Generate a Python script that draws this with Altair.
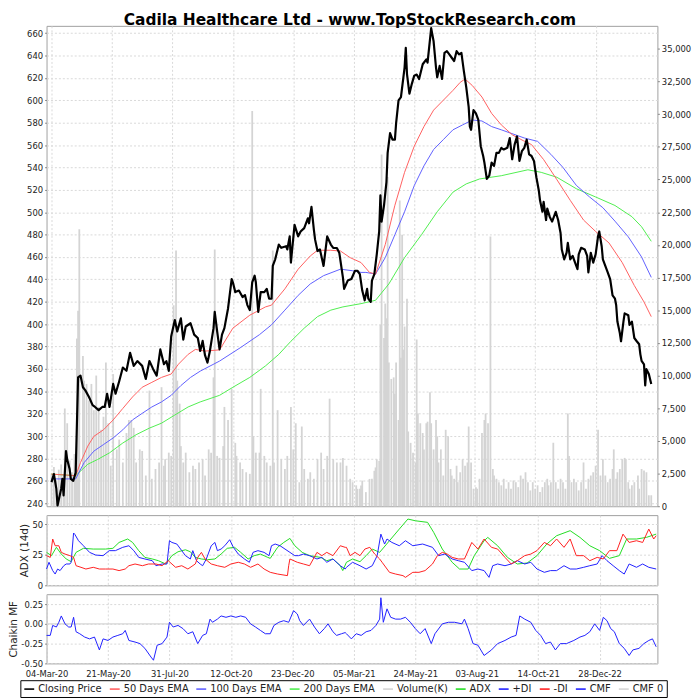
import altair as alt
import pandas as pd

title_text = "Cadila Healthcare Ltd - www.TopStockResearch.com"
date_labels = ["04-Mar-20", "21-May-20", "31-Jul-20", "12-Oct-20", "23-Dec-20",
               "05-Mar-21", "24-May-21", "03-Aug-21", "14-Oct-21", "28-Dec-22"]
tick_bars = [0, 50, 100, 150, 200, 250, 300, 350, 400, 450]

series_names = ["Closing Price", "50 Days EMA", "100 Days EMA", "200 Days EMA", "Volume(K)",
                "ADX", "+DI", "-DI", "CMF", "CMF 0"]
series_colors = ["#000000", "#ff6060", "#6060ff", "#50ee50", "#d4d4d4",
                 "#22dd22", "#2020ff", "#ff2020", "#2020ff", "#d6d6d6"]

price_bar = [0, 2, 4, 5, 8, 9, 10, 12, 13, 15, 16, 18, 20, 22, 24, 26, 28, 31, 34, 36, 39, 42, 44, 46, 48,
             51, 53, 56, 59, 62, 65, 68, 71, 75, 78, 81, 84, 87, 90, 93, 95, 97, 99, 102, 104, 107, 109,
             111, 115, 118, 121, 123, 125, 127, 129, 131, 134, 135, 137, 139, 141, 143, 146, 149, 150,
             152, 155, 158, 160, 162, 164, 166, 168, 169, 171, 173, 176, 178, 180, 182, 183, 185, 188,
             190, 194, 195, 197, 198, 201, 204, 206, 209, 212, 213, 215, 217, 218, 220, 222, 225, 228,
             231, 233, 236, 238, 241, 242, 245, 248, 251, 253, 255, 257, 259, 261, 262, 264, 265, 267,
             269, 271, 272, 273, 275, 277, 278, 280, 282, 284, 285, 287, 289, 292, 293, 294, 296, 298,
             300, 302, 304, 307, 310, 311, 314, 316, 318, 319, 321, 323, 325, 327, 329, 331, 333, 335,
             337, 339, 341, 343, 345, 346, 347, 349, 351, 353, 355, 357, 358, 360, 362, 364, 366, 368,
             370, 372, 374, 377, 379, 381, 383, 385, 387, 389, 391, 393, 395, 397, 399, 401, 403, 404,
             406, 407, 409, 410, 412, 414, 417, 419, 421, 422, 424, 426, 427, 429, 431, 433, 435, 436,
             438, 441, 443, 444, 446, 448, 450, 452, 453, 455, 456, 458, 460, 462, 464, 466, 467, 468,
             470, 471, 473, 474, 477, 478, 480, 482, 484, 486, 487, 488, 490, 491, 492, 494, 496]
price_val = [258.8, 266, 253, 238, 253, 261.7, 247, 286.5, 279, 270.5, 261.7, 260, 267.5, 352.4, 354,
             343.6, 340.8, 334.9, 327.6, 326, 323.2, 326, 326, 337.8, 326, 346.6, 337.8, 349, 361.2,
             358.3, 374.4, 362.7, 367, 362.7, 351, 367, 360, 354, 377.4, 364.2, 367, 358.3, 389.1,
             403.7, 393.5, 405.2, 386.2, 397.9, 400.8, 390.6, 387.6, 376, 385, 372, 365.6, 376, 396.4,
             411, 393.5, 377.4, 390.6, 396.4, 414, 440.3, 437.4, 428.6, 430, 424.2, 426, 417, 412.5,
             437.4, 443.3, 437.4, 411, 428.6, 428.6, 431.5, 422.7, 422.7, 452, 457.9, 471.1, 468.2,
             469.6, 466.7, 478.4, 455, 488.7, 478.4, 482.8, 485.8, 494.5, 490.1, 504.8, 484.3, 475.5,
             465.3, 466.7, 452, 478.4, 471.1, 468.2, 468, 463.8, 441.8, 431.5, 438.9, 440.3, 447.7,
             447.7, 444.7, 430, 421.3, 431.5, 422.7, 419.8, 438.9, 444.7, 462.3, 482.8, 515, 491.6,
             506.2, 526.8, 553.1, 570.7, 564.8, 564.8, 579.5, 600, 602.9, 629.2, 646.8, 623.4, 605.9,
             614.7, 622, 623, 619, 632.2, 636.6, 633.6, 664.4, 652.7, 629.2, 620.5, 630.7, 619, 642.4,
             643.9, 641, 638, 635.1, 643.9, 641, 642.4, 626.3, 611.7, 594.1, 576.5, 573.6, 591.2,
             588.3, 582.4, 559, 550.2, 544.4, 529.7, 532.6, 544.4, 541.4, 553.1, 553, 557.5, 556,
             557.5, 566.3, 547.3, 560.4, 567.7, 545.8, 554.5, 557.5, 564.8, 551.7, 550.2, 545.8,
             531.2, 519.4, 510.6, 500.4, 509.2, 493, 503.3, 496, 491.6, 500.4, 493, 481.4, 466.7,
             457.9, 463.8, 472.6, 457.9, 460.9, 455, 449.1, 462.3, 468.2, 466.7, 460.9, 446.2, 463.8,
             455, 462.3, 478.4, 482.8, 469.6, 457.9, 452, 446.2, 440.3, 425.7, 422.7, 416.9, 402.3,
             392, 384.7, 402.3, 409.6, 408, 399.4, 402.3, 387.6, 384.7, 382, 373, 367.2, 364, 345.2,
             359.8, 355.4, 346.6]

ema50_bar = [0, 20, 24, 30, 35, 43, 51, 59, 67, 75, 83, 91, 99, 105, 113, 119, 127, 139, 150, 164, 177,
             182, 193, 204, 214, 220, 231, 239, 247, 256, 263, 268, 276, 284, 292, 300, 308, 316, 324,
             332, 338, 342, 348, 356, 364, 372, 381, 390, 397, 407, 418, 429, 440, 450, 461, 472, 482,
             490, 496]
ema50_val = [266, 264.6, 276.3, 291, 299.7, 305.6, 314.4, 324.7, 334.9, 343.6, 348, 352.4, 355.4, 364.2,
             373, 377.4, 375.9, 377, 396.4, 408, 415.4, 417, 431.5, 449.1, 460.9, 466, 466, 465.3, 459.4,
             455, 446.2, 444.7, 471, 506.2, 535.6, 559, 576.5, 591.2, 600, 608.8, 616, 619, 613.2,
             602.9, 588.3, 578, 569.2, 564, 560.4, 547, 529, 510.6, 493, 482.8, 472.6, 455, 434.5,
             419.8, 406.7]

ema100_bar = [0, 20, 27, 35, 43, 51, 59, 67, 75, 83, 91, 99, 107, 115, 123, 139, 156, 172, 182, 193, 204,
              214, 225, 239, 249, 256, 260, 268, 276, 284, 292, 300, 308, 316, 324, 332, 340, 348, 356,
              364, 372, 391, 402, 413, 423, 434, 445, 456, 466, 477, 488, 496]
ema100_val = [261.7, 261.7, 276.3, 286.5, 292.4, 298.3, 305.6, 314.4, 320.3, 326, 330.5, 336.4, 345.1,
              352.4, 358, 367, 378.8, 390.6, 399.4, 412.5, 425.7, 435.9, 443.3, 449.1, 447.7, 446.2,
              446.2, 444.7, 459.4, 479.9, 500.4, 523.8, 541.4, 556, 564.8, 573.6, 578, 582.4, 581.5,
              576.5, 573.6, 566.3, 563.3, 551.7, 540, 524, 513.6, 504, 492, 478, 460, 441.8]

ema200_bar = [0, 20, 30, 38, 48, 59, 70, 81, 91, 102, 113, 123, 139, 150, 164, 177, 188, 198, 209, 220,
              231, 241, 256, 268, 279, 292, 306, 319, 332, 343, 354, 372, 394, 405, 418, 434, 450, 466,
              480, 488, 496]
ema200_val = [266, 264.6, 274.8, 279, 285, 293.8, 301.2, 307.1, 311.5, 318.8, 326, 330.5, 336.4, 343.6,
              352.4, 362.7, 373, 384.7, 396.4, 406.7, 412.5, 415.4, 418.3, 421.3, 435.9, 459.4, 479.9,
              500.4, 517.9, 525.3, 529.7, 532.6, 537.9, 535.6, 531.2, 521, 513.6, 506, 496, 487, 474]

vol_bar = [0, 2, 4, 6, 8, 10, 11, 13, 15, 17, 19, 20, 21, 22, 23, 26, 27, 29, 31, 33, 35, 37, 39, 41, 43,
           45, 47, 49, 51, 54, 56, 59, 62, 64, 66, 68, 70, 73, 75, 78, 81, 83, 86, 89, 91, 93, 94, 97, 99,
           101, 103, 104, 106, 107, 109, 111, 114, 117, 119, 122, 125, 127, 130, 132, 134, 135, 137, 139,
           142, 143, 146, 149, 152, 153, 156, 158, 161, 164, 166, 167, 169, 172, 173, 176, 178, 181, 183,
           184, 187, 190, 193, 195, 198, 200, 202, 205, 207, 209, 212, 214, 217, 220, 223, 225, 228, 230,
           233, 236, 239, 241, 244, 247, 249, 252, 253, 255, 256, 257, 260, 263, 265, 267, 268, 269, 271,
           272, 273, 275, 276, 277, 278, 279, 281, 283, 284, 285, 287, 288, 289, 290, 291, 292, 294, 295,
           297, 299, 301, 302, 303, 305, 307, 308, 310, 311, 313, 314, 316, 318, 319, 320, 322, 324, 326,
           328, 330, 331, 333, 335, 336, 338, 340, 342, 344, 345, 347, 349, 351, 352, 354, 356, 358, 359,
           361, 363, 365, 366, 368, 370, 372, 374, 376, 378, 380, 382, 384, 386, 388, 390, 392, 394, 396,
           398, 400, 402, 404, 406, 408, 410, 411, 413, 415, 417, 419, 421, 423, 425, 427, 428, 430, 432,
           434, 436, 438, 440, 442, 444, 446, 448, 450, 452, 454, 456, 458, 460, 462, 464, 465, 467, 468,
           470, 472, 474, 475, 477, 478, 480, 482, 485, 486, 488, 490, 492, 494, 496]
vol_val = [2500, 3000, 2000, 2800, 3200, 2400, 7480, 6350, 3500, 2600, 4000, 3000, 12830, 14960, 21200,
           11490, 9610, 9360, 8100, 9360, 7350, 10000, 7600, 5850, 6850, 10990, 6350, 3100, 10110, 4350,
           5100, 3350, 5600, 6600, 6600, 6000, 3350, 4350, 4230, 2350, 8850, 2100, 2850, 3350, 9110,
           3100, 3600, 4100, 3850, 15380, 19570, 9610, 7850, 4600, 3350, 4100, 2600, 3100, 2850, 3350,
           3600, 2350, 4350, 4100, 9860, 19650, 3850, 3700, 4600, 7600, 6600, 9000, 4850, 3850, 3350,
           2850, 2600, 2480, 30236, 5350, 4100, 4100, 8980, 3850, 3350, 3100, 19570, 3350, 7350, 3600,
           2850, 3850, 7600, 4350, 6350, 1840, 6100, 2850, 2100, 2600, 2100, 3600, 4100, 2850, 3850,
           8230, 3600, 3350, 3350, 3700, 3100, 2100, 1840, 1600, 1330, 1340, 1580, 1960, 1080, 2090,
           2100, 2710, 2970, 3590, 3470, 13880, 26920, 12880, 15510, 14380, 25190, 11000, 9740, 9860,
           8600, 11000, 6600, 23400, 11370, 20770, 11990, 13750, 15880, 5720, 4850, 4100, 3350, 12760,
           7100, 6350, 5600, 4350, 6350, 6470, 8730, 6350, 4350, 6600, 5350, 3350, 4350, 2350, 5850,
           5350, 2850, 2350, 2100, 3100, 1840, 2600, 3600, 3100, 3350, 6100, 3350, 1340, 1460, 1340,
           2100, 5600, 6600, 7100, 6350, 20650, 2850, 2350, 2100, 1840, 1600, 2100, 1340, 1840, 1340,
           1970, 1840, 1460, 2350, 2100, 2600, 1840, 1210, 1840, 1340, 1600, 1080, 1460, 1840, 2100,
           1600, 1840, 4850, 1840, 1340, 2100, 1840, 1340, 7100, 3850, 1840, 2100, 1840, 1210, 1840,
           3350, 1340, 2100, 2350, 2600, 3100, 5850, 2350, 3600, 2350, 1840, 2100, 2850, 4350, 2100,
           2600, 2850, 3600, 3700, 3600, 1840, 1340, 1600, 1840, 2350, 1340, 2850, 2730, 2600, 840, 840]

adx_bar = [0, 4, 8, 12, 16, 20, 24, 30, 38, 48, 54, 59, 66, 70, 75, 80, 86, 91, 97, 102, 107, 113, 117,
           121, 126, 131, 137, 142, 147, 153, 158, 164, 169, 174, 180, 182, 188, 193, 198, 202, 208, 214,
           223, 228, 233, 239, 241, 244, 249, 255, 260, 265, 271, 279, 287, 294, 300, 310, 315, 322, 330,
           336, 343, 348, 356, 359, 367, 375, 383, 391, 399, 407, 415, 426, 434, 442, 450, 458, 466, 472,
           480, 488, 496]
adx_val = [26.9, 24.2, 31, 25.5, 21.5, 19.3, 26.9, 30.2, 29.6, 29.6, 30.2, 35, 37.8, 35, 28.3, 22.8, 21.5,
           20.1, 17.4, 24.2, 27.4, 29, 27.4, 22.8, 21.5, 20.9, 21.5, 25.5, 30.2, 31, 26.9, 21.5, 24.2,
           25.5, 22.8, 22, 31, 35, 38.3, 32.3, 26.9, 24.2, 22.8, 20.1, 21.5, 16, 12, 18.8, 21.5, 19.3,
           24.2, 29.6, 26.9, 36.4, 45.9, 54.1, 52.7, 51.4, 43.2, 29.6, 18.8, 13.3, 13.3, 24.2, 36.4,
           39.1, 32.3, 22.8, 17.4, 18.2, 24.2, 33.7, 40.5, 44.6, 39.1, 32.3, 28.3, 22, 24.2, 37.8,
           37.8, 39.1, 41.8]

pdi_bar = [0, 2, 5, 7, 9, 11, 14, 16, 19, 20, 22, 23, 26, 30, 35, 40, 46, 51, 56, 62, 67, 71, 75, 80, 86,
           89, 94, 98, 100, 102, 106, 110, 113, 117, 119, 122, 125, 127, 130, 134, 137, 139, 142, 145,
           149, 152, 156, 161, 165, 168, 172, 177, 181, 183, 186, 190, 194, 198, 202, 205, 209, 214, 220,
           224, 228, 233, 239, 243, 244, 249, 255, 260, 265, 269, 272, 275, 277, 281, 287, 292, 298, 306,
           314, 319, 324, 330, 335, 340, 346, 351, 356, 360, 363, 367, 373, 378, 383, 389, 394, 399, 405,
           410, 415, 421, 426, 431, 437, 442, 448, 452, 456, 461, 466, 470, 474, 480, 485, 490, 496]
pdi_val = [13.3, 18.8, 12, 9.2, 13.3, 12, 16, 17.4, 17.4, 18.8, 42.7, 41.6, 36.4, 32.3, 26.9, 24.7, 24.2,
           28.3, 28.3, 31, 32.3, 28.3, 22.8, 21.5, 20.1, 16, 17.4, 17.4, 36.4, 35, 33.7, 28.3, 24.2,
           21.5, 28.3, 20.1, 17.4, 16, 21.5, 32.3, 35, 28.3, 29.6, 32.3, 37.2, 31, 25.5, 21.5, 18.8,
           26.9, 28.3, 26.9, 24.2, 32.3, 33.7, 32.3, 29.6, 26.9, 24.2, 24.2, 25.5, 24.2, 21.5, 22.8,
           18.8, 21.5, 16, 13.3, 14.7, 18.8, 16, 13.3, 16, 24.2, 41.8, 33.7, 37.8, 35, 32.3, 36.4, 32.3,
           33.7, 31, 24.2, 25.5, 21.5, 20.1, 18.8, 12, 13.3, 12, 6.5, 16, 17.4, 16, 17.4, 20.1, 17.4,
           18.8, 13.3, 10.6, 12, 12, 16, 13.3, 13.3, 14.7, 16, 17.4, 24.2, 20.1, 16, 12, 9.2, 17.4,
           14.7, 17.4, 14.7, 13.3]

mdi_bar = [0, 3, 5, 7, 10, 12, 15, 19, 22, 24, 28, 32, 38, 43, 48, 54, 59, 64, 67, 72, 78, 83, 89, 94,
           99, 105, 110, 115, 121, 123, 126, 129, 134, 139, 145, 150, 156, 161, 166, 172, 177, 182, 188,
           196, 197, 198, 204, 209, 214, 220, 224, 228, 233, 239, 243, 244, 247, 251, 255, 259, 263, 267,
           271, 273, 279, 284, 290, 292, 298, 303, 308, 314, 318, 322, 326, 330, 335, 340, 346, 351, 356,
           362, 367, 373, 378, 383, 389, 394, 399, 405, 410, 415, 421, 426, 431, 437, 442, 448, 453, 458,
           464, 469, 474, 480, 485, 490, 494, 496]
mdi_val = [24.2, 22.8, 37.8, 32.3, 32.3, 26.9, 25.5, 24.2, 22.8, 16, 14.7, 13.3, 14.7, 13.3, 13.3, 13.3,
           12, 13.3, 16, 17.4, 16, 17.4, 17.4, 16, 20.1, 14.7, 16, 13.3, 17.4, 22.8, 26.9, 21.5, 17.4,
           16, 14.7, 17.4, 18.8, 17.4, 14.7, 17.4, 13.3, 10.6, 9.2, 7.9, 16, 21.5, 18.8, 17.4, 16, 26.9,
           24.2, 26.9, 24.2, 32.3, 31, 31, 24.2, 26.9, 24.2, 29.6, 31, 25.5, 21.5, 18.8, 10.6, 9.2, 7.9,
           6.5, 10.6, 10.6, 12, 17.4, 24.2, 26.9, 25.5, 22.8, 21.5, 21.5, 35, 29.6, 37.8, 31, 29.6,
           22.8, 17.4, 20.1, 24.2, 25.5, 28.3, 35, 32.3, 37.8, 31, 37.8, 24.2, 24.2, 20.1, 22.8, 21.5,
           28.3, 28.3, 41.8, 35, 36.4, 35, 45.9, 37.8, 40.5]

cmf_bar = [0, 3, 5, 8, 10, 12, 15, 18, 20, 22, 24, 27, 31, 35, 39, 43, 46, 50, 54, 58, 62, 64, 67, 72,
           76, 80, 85, 87, 90, 94, 98, 100, 103, 107, 111, 115, 119, 123, 127, 130, 133, 135, 139, 142,
           146, 150, 154, 158, 162, 166, 170, 174, 178, 182, 185, 189, 193, 197, 201, 204, 206, 209, 214,
           218, 222, 226, 229, 233, 236, 240, 243, 244, 248, 252, 256, 260, 264, 268, 271, 272, 274, 277,
           280, 284, 288, 292, 296, 300, 304, 308, 313, 316, 322, 327, 332, 338, 340, 343, 347, 351, 356,
           362, 367, 373, 378, 382, 385, 389, 394, 398, 402, 406, 410, 414, 418, 423, 429, 434, 438, 442,
           446, 450, 453, 456, 459, 462, 466, 470, 474, 477, 482, 486, 490, 493, 496]
cmf_val = [-0.146, -0.146, -0.02, -0.04, 0.02, 0.10, 0, -0.04, -0.04, 0.083, -0.10, -0.125, -0.167,
           -0.19, -0.167, -0.33, -0.19, -0.21, -0.167, -0.146, -0.125, -0.083, -0.21, -0.23, -0.25,
           -0.31, -0.42, -0.46, -0.27, -0.25, -0.167, 0.02, -0.04, -0.02, -0.06, -0.125, -0.10, -0.25,
           -0.146, -0.125, 0.06, 0.02, 0.06, 0.10, 0.083, 0.10, 0.083, 0.10, 0.083, 0, -0.04, -0.083,
           -0.125, -0.125, -0.02, 0.02, 0.04, 0.02, 0.167, 0.125, 0.04, -0.02, 0.06, -0.04, -0.125,
           -0.06, 0, -0.10, -0.146, -0.125, -0.11, -0.125, -0.19, -0.125, -0.146, -0.10, -0.083, -0.02,
           0.06, 0.33, 0.02, 0.19, 0.083, 0.06, 0.06, 0.083, 0.02, -0.06, -0.125, -0.06, -0.25, -0.125,
           0, 0.02, 0.02, 0, 0.06, -0.06, -0.25, -0.27, -0.40, -0.33, -0.25, -0.21, -0.167, -0.146,
           0.10, 0.06, 0.02, -0.083, -0.146, -0.25, -0.23, -0.33, -0.25, -0.25, -0.21, -0.167, -0.146,
           -0.10, 0, -0.083, 0.083, 0.04, -0.06, -0.10, -0.25, -0.31, -0.40, -0.33, -0.31, -0.25,
           -0.21, -0.19, -0.29]

cmf_zero = [0]


def frame(bars, vals, name):
    return pd.DataFrame({"bar": bars, "value": vals, "series": name})


FONT = "DejaVu Sans"
W = 618
cscale = alt.Scale(domain=series_names, range=series_colors)
legend = alt.Legend(title=None, orient="none", legendX=-26.5, legendY=662, direction="horizontal",
                    symbolType="stroke", symbolStrokeWidth=1.6, symbolSize=100, labelFontSize=10,
                    labelFont=FONT, labelColor="#222222", columnPadding=3.5, labelOffset=3, padding=3,
                    strokeColor="#000000", labelLimit=200)
color = alt.Color("series:N", scale=cscale, legend=legend)

xscale = alt.Scale(domain=[0, 497], nice=False, zero=False)
xgrid = alt.Axis(values=tick_bars, labels=False, ticks=False, domain=False, grid=True,
                 gridDash=[2, 2], gridColor="#d9d9d9", title=None)
label_array = "[" + ",".join("'" + d + "'" for d in date_labels) + "]"
xlab = alt.Axis(values=tick_bars, labels=True, ticks=False, domain=False, grid=True,
                gridDash=[2, 2], gridColor="#d9d9d9", title=None, labelFlush=False,
                labelOverlap=False, labelPadding=6,
                labelExpr=label_array + "[round(datum.value / 50)]")
X = alt.X("bar:Q", scale=xscale, axis=xgrid)

# main panel
pscale = alt.Scale(domain=[237.3, 666.5], nice=False, zero=False)
paxis = alt.Axis(orient="left", values=list(range(240, 661, 20)), grid=True, gridDash=[2, 2],
                 gridColor="#d9d9d9", title=None, labelFlush=False)
vscale = alt.Scale(domain=[0, 36760], nice=False, zero=True)
vaxis = alt.Axis(orient="right", values=list(range(0, 35001, 2500)), grid=False,
                 labelExpr="format(datum.value, ',')", title=None, labelFlush=False)

vol = alt.Chart(frame(vol_bar, vol_val, "Volume(K)")).mark_bar(size=1.8).encode(
    x=X, y=alt.Y("value:Q", scale=vscale, axis=vaxis), color=color)


def pline(df, width):
    return alt.Chart(df).mark_line(strokeWidth=width, strokeJoin="round").encode(
        x=X, y=alt.Y("value:Q", scale=pscale, axis=paxis), color=color)


lines = alt.layer(
    pline(frame(ema200_bar, ema200_val, "200 Days EMA"), 1),
    pline(frame(ema100_bar, ema100_val, "100 Days EMA"), 1),
    pline(frame(ema50_bar, ema50_val, "50 Days EMA"), 1),
    pline(frame(price_bar, price_val, "Closing Price"), 2.2),
)
main = alt.layer(vol, lines).resolve_scale(y="independent").properties(width=W, height=486)

# ADX panel
ascale = alt.Scale(domain=[0, 57.3], nice=False, zero=False)
aaxis = alt.Axis(values=[0, 25, 50], grid=True, gridDash=[2, 2], gridColor="#d9d9d9",
                 title="ADX (14d)", labelFlush=False)


def aline(df):
    return alt.Chart(df).mark_line(strokeWidth=1).encode(
        x=X, y=alt.Y("value:Q", scale=ascale, axis=aaxis), color=color)


adx = alt.layer(
    aline(frame(adx_bar, adx_val, "ADX")),
    aline(frame(pdi_bar, pdi_val, "+DI")),
    aline(frame(mdi_bar, mdi_val, "-DI")),
).properties(width=W, height=71)

# Chaikin panel
cscale_y = alt.Scale(domain=[-0.5, 0.375], nice=False, zero=False)
caxis = alt.Axis(values=[-0.5, -0.25, 0, 0.25], grid=True, gridDash=[2, 2], gridColor="#d9d9d9",
                 title="Chaikin MF", labelFlush=False,
                 labelExpr="datum.value < 0 ? '-' + format(-datum.value, '.2f') : format(datum.value, '.2f')")
zero_df = pd.DataFrame({"value": cmf_zero, "series": "CMF 0"})
czero = alt.Chart(zero_df).mark_rule(strokeWidth=1.2).encode(
    y=alt.Y("value:Q", scale=cscale_y, axis=caxis), color=color)
cline = alt.Chart(frame(cmf_bar, cmf_val, "CMF")).mark_line(strokeWidth=1).encode(
    x=alt.X("bar:Q", scale=xscale, axis=xlab),
    y=alt.Y("value:Q", scale=cscale_y, axis=caxis), color=color)
chaikin = alt.layer(czero, cline).properties(width=W, height=70)

chart = alt.vconcat(main, adx, chaikin, spacing=3, padding=0).properties(
    title=alt.Title(title_text, fontSize=15.6, fontWeight="bold", font=FONT, offset=-3,
                    anchor="middle", color="#000000"),
    background="white",
).configure_view(stroke="#a0a0a0", strokeWidth=1).configure_axis(
    labelFont=FONT, labelFontSize=8.5, labelColor="#222222", titleFont=FONT, titleFontSize=10.5,
    titleFontWeight="normal", titleColor="#222222", tickColor="#888888", tickSize=2,
    labelPadding=2, titlePadding=2, domain=False)

chart.save("out.html", embed_options={"renderer": "svg", "actions": False})
